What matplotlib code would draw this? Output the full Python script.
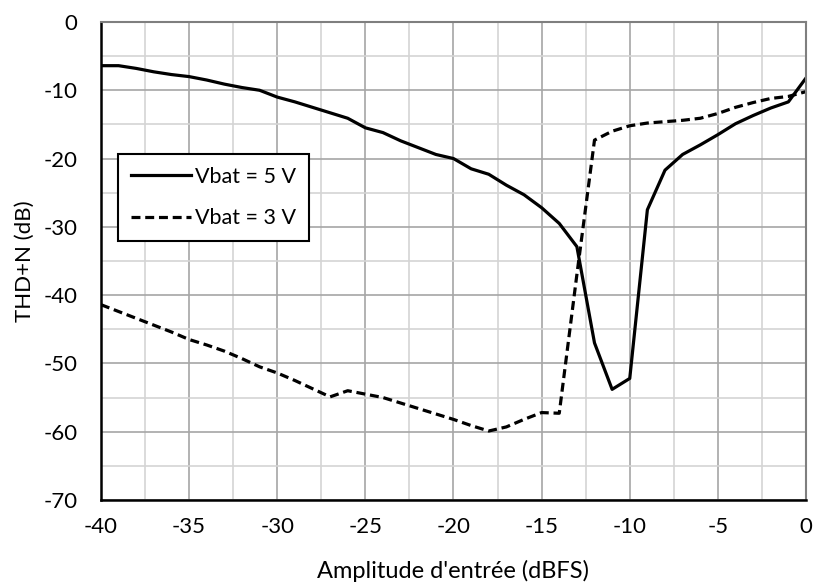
import matplotlib.pyplot as plt
from matplotlib.ticker import MultipleLocator

# Données
amplitude = list(range(-40, 1))
thd_5v = [-6.4, -6.4, -6.8, -7.3, -7.7, -8.0, -8.5, -9.1, -9.6, -10.0,
          -11.0, -11.7, -12.5, -13.3, -14.1, -15.5, -16.2, -17.4, -18.4, -19.4,
          -20.0, -21.5, -22.3, -23.9, -25.3, -27.2, -29.5, -32.9, -47.0, -53.8,
          -52.2, -27.5, -21.7, -19.4, -18.0, -16.5, -14.9, -13.7, -12.6, -11.7,
          -8.2]
thd_3v = [-41.4, -42.4, -43.4, -44.4, -45.4, -46.5, -47.3, -48.2, -49.3, -50.5,
          -51.4, -52.5, -53.7, -54.9, -54.0, -54.5, -55.0, -55.8, -56.6, -57.4,
          -58.2, -59.1, -59.9, -59.3, -58.2, -57.2, -57.3, -37.0, -17.3, -16.0,
          -15.2, -14.8, -14.6, -14.4, -14.1, -13.4, -12.5, -11.8, -11.2, -10.9,
          -10.2]
labels = ["Vbat = 5 V", "Vbat = 3 V"]

plt.rcParams['font.family'] = ['Lato', 'DejaVu Sans']
plt.rcParams['axes.unicode_minus'] = False

fig = plt.figure(figsize=(8.13, 5.83), dpi=100)
ax = fig.add_axes([0.1242, 0.1424, 0.8672, 0.8199])

ax.plot(amplitude, thd_5v, color="black", lw=2.3, label=labels[0])
ax.plot(amplitude, thd_3v, color="black", lw=2.3, ls=(0, (2.8, 1.5)), label=labels[1])

ax.set_xlim(-40, 0)
ax.set_ylim(-70, 0)
ax.xaxis.set_major_locator(MultipleLocator(5))
ax.xaxis.set_minor_locator(MultipleLocator(2.5))
ax.yaxis.set_major_locator(MultipleLocator(10))
ax.yaxis.set_minor_locator(MultipleLocator(5))
ax.grid(which="major", color="#a6a6a6", lw=1.2)
ax.grid(which="minor", color="#d4d4d4", lw=1.2)
ax.set_axisbelow(True)
ax.tick_params(which="both", length=0, labelsize=16)
ax.tick_params(axis="y", pad=17)
ax.tick_params(axis="x", pad=12)

for side in ["left", "bottom"]:
    ax.spines[side].set_color("black")
    ax.spines[side].set_linewidth(1.8)
for side in ["top", "right"]:
    ax.spines[side].set_color("#7f7f7f")
    ax.spines[side].set_linewidth(1.5)

ax.set_xlabel("Amplitude d'entrée (dBFS)", fontsize=17, labelpad=17)
ax.set_ylabel("THD+N (dB)", fontsize=16, labelpad=6)

leg = ax.legend(loc="upper left", bbox_to_anchor=(0.024, 0.724), borderaxespad=0,
                fontsize=15.5, handlelength=2.8, handletextpad=0.2, labelspacing=1.0,
                fancybox=False, framealpha=1, edgecolor="black", borderpad=0.6)
leg.get_frame().set_linewidth(1.5)

plt.savefig("out.png", dpi=100)
